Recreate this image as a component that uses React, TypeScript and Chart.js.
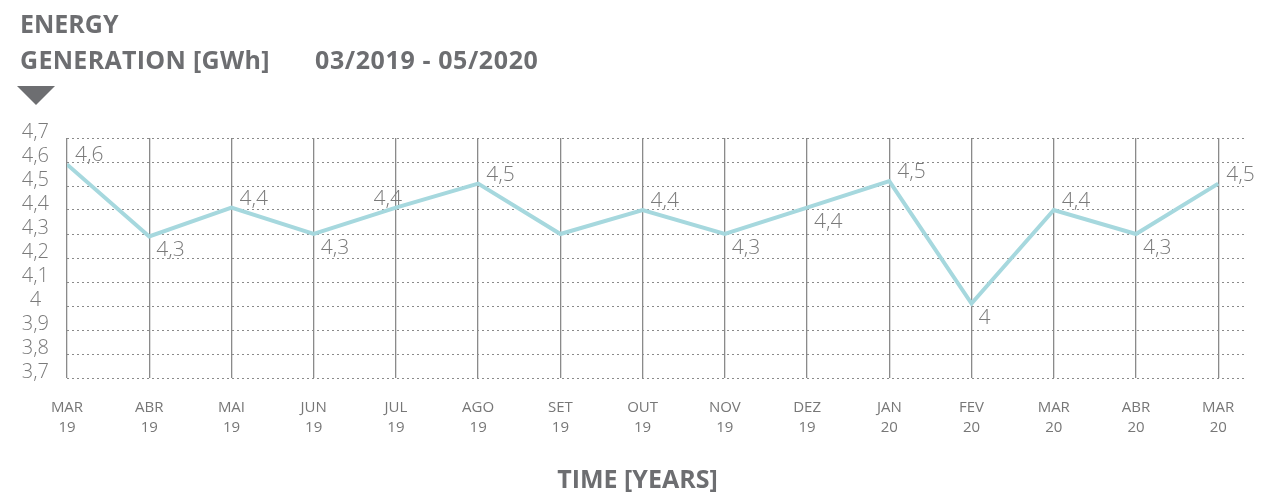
import React, { useEffect, useRef } from "react";
import { Chart, registerables } from "chart.js";

Chart.register(...registerables);

const monthLabels = ["MAR", "ABR", "MAI", "JUN", "JUL", "AGO", "SET", "OUT", "NOV", "DEZ", "JAN", "FEV", "MAR", "ABR", "MAR"];
const yearLabels = ["19", "19", "19", "19", "19", "19", "19", "19", "19", "19", "20", "20", "20", "20", "20"];
const energyValues = [4.59, 4.29, 4.41, 4.3, 4.41, 4.51, 4.3, 4.4, 4.3, 4.41, 4.52, 4.01, 4.4, 4.3, 4.51];
const valueLabels = ["4,6", "4,3", "4,4", "4,3", "4,4", "4,5", "", "4,4", "4,3", "4,4", "4,5", "4", "4,4", "4,3", "4,5"];
const labelPlacement = ["above", "below", "above", "below", "left", "above", "none", "above", "below", "below", "above", "below", "above", "below", "above"];

const GRAY = "#6d6e71";
const FONT = "'Open Sans', 'DejaVu Sans', sans-serif";

const valueLabelPlugin = {
  id: "valueLabels",
  afterDatasetsDraw(chart: any) {
    const ctx = chart.ctx;
    const meta = chart.getDatasetMeta(0);
    ctx.save();
    ctx.font = `300 21px ${FONT}`;
    ctx.fillStyle = "#7a7a7a";
    ctx.textBaseline = "alphabetic";
    meta.data.forEach((pt: any, i: number) => {
      const txt = valueLabels[i];
      const place = labelPlacement[i];
      if (!txt || place === "none") return;
      if (place === "above") {
        ctx.textAlign = "left";
        ctx.fillText(txt, pt.x + 8, pt.y - 3);
      } else if (place === "below") {
        ctx.textAlign = "left";
        ctx.fillText(txt, pt.x + 7, pt.y + 20);
      } else {
        ctx.textAlign = "right";
        ctx.fillText(txt, pt.x + 6, pt.y - 3);
      }
    });
    ctx.restore();
  },
};

export default function App() {
  const ref = useRef<HTMLCanvasElement>(null);

  useEffect(() => {
    if (!ref.current) return;
    const chart = new Chart(ref.current, {
      type: "line",
      data: {
        datasets: [
          {
            data: energyValues.map((v, i) => ({ x: i, y: v })),
            borderColor: "#a6d8de",
            borderWidth: 4,
            pointRadius: 0,
            tension: 0,
            fill: false,
          },
        ],
      },
      options: {
        animation: false,
        responsive: false,
        maintainAspectRatio: false,
        layout: { padding: { left: 0, right: 28, top: 138, bottom: 0 } },
        plugins: {
          legend: { display: false },
          tooltip: { enabled: false },
          title: { display: false },
        },
        scales: {
          x: {
            type: "linear",
            min: 0,
            max: 14.35,
            border: { display: false },
            grid: { color: "#8a8a8a", lineWidth: 1.3, drawTicks: false },
            ticks: {
              stepSize: 1,
              includeBounds: false,
              autoSkip: false,
              maxRotation: 0,
              padding: 20,
              color: "#777",
              font: { family: FONT, size: 15, lineHeight: 1.3 },
              callback: (v: any) => {
                const i = Math.round(Number(v));
                return monthLabels[i] !== undefined ? [monthLabels[i], yearLabels[i]] : "";
              },
            },
            afterFit: (s: any) => {
              s.height = 117;
            },
          },
          y: {
            type: "linear",
            min: 3.7,
            max: 4.7,
            border: { display: false, dash: [2, 3] },
            grid: { color: "#8a8a8a", lineWidth: 1, drawTicks: false },
            ticks: {
              stepSize: 0.1,
              autoSkip: false,
              padding: 18,
              crossAlign: "center",
              color: "#7a7a7a",
              font: { family: FONT, size: 20, weight: "300", lineHeight: "12px" } as any,
              callback: (v: any) => {
                const r = Math.round(Number(v) * 10) / 10;
                return [String(r).replace(".", ","), ""];
              },
            },
            afterFit: (s: any) => {
              s.width = 67;
            },
          },
        },
      },
      plugins: [valueLabelPlugin],
    } as any);
    return () => chart.destroy();
  }, []);

  return (
    <div style={{ position: "fixed", left: 0, top: 0, width: 1275, height: 495, background: "#fff", fontFamily: FONT }}>
      <canvas ref={ref} width={1275} height={495} style={{ position: "absolute", left: 0, top: 0, width: 1275, height: 495 }} />
      <div style={{ position: "absolute", left: 20, top: 5, color: GRAY, fontWeight: 700, fontSize: 25, lineHeight: "36px", whiteSpace: "nowrap" }}>
        <div>ENERGY</div>
        <div>
          <span style={{ letterSpacing: 0.3 }}>GENERATION [GWh]</span>
          <span style={{ position: "absolute", left: 295, letterSpacing: 0.6 }}>03/2019 - 05/2020</span>
        </div>
      </div>
      <div style={{ position: "absolute", left: 17, top: 86, width: 0, height: 0, borderLeft: "19px solid transparent", borderRight: "19px solid transparent", borderTop: `19px solid ${GRAY}` }} />
      <div style={{ position: "absolute", left: 0, width: 1275, top: 461, textAlign: "center", color: GRAY, fontWeight: 700, fontSize: 25, lineHeight: "34px" }}>
        TIME [YEARS]
      </div>
    </div>
  );
}
